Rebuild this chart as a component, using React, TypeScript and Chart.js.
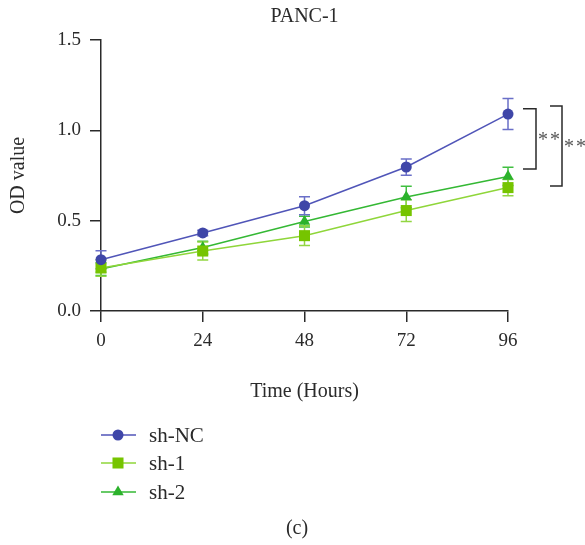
import React, { useEffect, useRef } from "react";
import { Chart, registerables } from "chart.js";

Chart.register(...registerables);

const hours = [0, 24, 48, 72, 96];
const xTicks = [0, 24, 48, 72, 96];
const yTicks = [0, 0.5, 1.0, 1.5];
const seriesNames = ["sh-NC", "sh-1", "sh-2"];
const shNC = [0.284, 0.432, 0.583, 0.797, 1.09];
const shNCErr = [0.05, 0.015, 0.05, 0.045, 0.086];
const sh1 = [0.238, 0.332, 0.417, 0.556, 0.683];
const sh1Err = [0.045, 0.05, 0.055, 0.06, 0.045];
const sh2 = [0.232, 0.351, 0.495, 0.631, 0.745];
const sh2Err = [0.035, 0.035, 0.03, 0.06, 0.05];
const bracketTops = [1.12, 1.134];
const bracketBottoms = [0.786, 0.692];
const bracketLabels = ["**", "**"];

const FONT = "'Liberation Serif', 'Times New Roman', serif";
const INK = "#2a2a2a";

const errs = [shNCErr, sh1Err, sh2Err];
const errColors = ["#6a6fc8", "#92d642", "#40bf40"];

const pts = (ys: number[]) => hours.map((h, i) => ({ x: h, y: ys[i] }));

function drawMarker(ctx: CanvasRenderingContext2D, style: string, x: number, y: number, r: number, color: string) {
  ctx.save();
  ctx.fillStyle = color;
  ctx.beginPath();
  if (style === "circle") {
    ctx.arc(x, y, r, 0, Math.PI * 2);
  } else if (style === "rect") {
    const s = Math.SQRT1_2 * r;
    ctx.rect(x - s, y - s, 2 * s, 2 * s);
  } else {
    const w = (r * Math.sqrt(3)) / 2;
    ctx.moveTo(x, y - r);
    ctx.lineTo(x + w, y + r / 2);
    ctx.lineTo(x - w, y + r / 2);
    ctx.closePath();
  }
  ctx.fill();
  ctx.restore();
}

const errorBarPlugin = {
  id: "errorBars",
  beforeDatasetsDraw(chart: any) {
    const ctx = chart.ctx;
    const xs = chart.scales.x;
    const ys = chart.scales.y;
    ctx.save();
    ctx.lineWidth = 1.5;
    [2, 1, 0].forEach((d) => {
      const data = chart.data.datasets[d].data;
      ctx.strokeStyle = errColors[d];
      data.forEach((p: any, i: number) => {
        const x = xs.getPixelForValue(p.x);
        const top = ys.getPixelForValue(p.y + errs[d][i]);
        const bot = ys.getPixelForValue(p.y - errs[d][i]);
        ctx.beginPath();
        ctx.moveTo(x, top);
        ctx.lineTo(x, bot);
        ctx.moveTo(x - 5.5, top);
        ctx.lineTo(x + 5.5, top);
        ctx.moveTo(x - 5.5, bot);
        ctx.lineTo(x + 5.5, bot);
        ctx.stroke();
      });
    });
    ctx.restore();
  },
};

const annotPlugin = {
  id: "annot",
  afterDraw(chart: any) {
    const ctx = chart.ctx;
    const xs = chart.scales.x;
    const ys = chart.scales.y;
    const area = chart.chartArea;
    const xLast = xs.getPixelForValue(hours[hours.length - 1]);
    ctx.save();
    // brackets
    const offs = [
      [15, 28],
      [42, 54],
    ];
    ctx.strokeStyle = INK;
    ctx.lineWidth = 1.5;
    bracketTops.forEach((t, i) => {
      const yt = ys.getPixelForValue(t);
      const yb = ys.getPixelForValue(bracketBottoms[i]);
      const x0 = xLast + offs[i][0];
      const x1 = xLast + offs[i][1];
      ctx.beginPath();
      ctx.moveTo(x0, yt);
      ctx.lineTo(x1, yt);
      ctx.lineTo(x1, yb);
      ctx.lineTo(x0, yb);
      ctx.stroke();
      ctx.save();
      ctx.fillStyle = "#555";
      ctx.font = `20px ${FONT}`;
      (ctx as any).letterSpacing = "2px";
      ctx.textAlign = "left";
      ctx.textBaseline = "alphabetic";
      ctx.fillText(bracketLabels[i], x1 + 2, (yt + yb) / 2 + 7);
      ctx.restore();
    });
    // title and axis titles
    const cx = (area.left + area.right) / 2;
    ctx.fillStyle = INK;
    ctx.textAlign = "center";
    ctx.textBaseline = "middle";
    ctx.font = `20px ${FONT}`;
    ctx.fillText("PANC-1", cx, 17);
    ctx.fillText("Time (Hours)", cx, 392);
    ctx.fillText("(c)", 297, 529);
    ctx.save();
    ctx.translate(19, (area.top + area.bottom) / 2);
    ctx.rotate(-Math.PI / 2);
    ctx.fillText("OD value", 0, 0);
    ctx.restore();
    // legend
    const rows = [435, 463, 492];
    chart.data.datasets.forEach((ds: any, i: number) => {
      const y = rows[i];
      ctx.strokeStyle = ds.borderColor;
      ctx.lineWidth = 1.5;
      ctx.beginPath();
      ctx.moveTo(101, y);
      ctx.lineTo(136, y);
      ctx.stroke();
      drawMarker(ctx, ds.pointStyle, 118, y, ds.pointRadius, ds.pointBackgroundColor);
      ctx.fillStyle = INK;
      ctx.textAlign = "left";
      ctx.font = `21px ${FONT}`;
      ctx.fillText(seriesNames[i], 149, y + 1);
    });
    ctx.restore();
  },
};

export default function App() {
  const ref = useRef<HTMLCanvasElement>(null);
  useEffect(() => {
    document.body.style.margin = "0";
    const canvas = ref.current!;
    const axisCommon = {
      border: { display: true, color: INK, width: 1.5 },
      grid: { display: true, drawOnChartArea: false, drawTicks: true, tickLength: 11, tickColor: INK, lineWidth: 1.5 },
    };
    const chart = new Chart(canvas, {
      type: "line",
      data: {
        datasets: [
          {
            label: seriesNames[0],
            data: pts(shNC),
            borderColor: "#5055b8",
            borderWidth: 1.5,
            pointStyle: "circle",
            pointRadius: 5.5,
            pointBackgroundColor: "#3f46a8",
            pointBorderWidth: 0,
            tension: 0,
            clip: false,
          },
          {
            label: seriesNames[1],
            data: pts(sh1),
            borderColor: "#8fd63a",
            borderWidth: 1.5,
            pointStyle: "rect",
            pointRadius: 7.8,
            pointBackgroundColor: "#76c400",
            pointBorderWidth: 0,
            tension: 0,
            clip: false,
          },
          {
            label: seriesNames[2],
            data: pts(sh2),
            borderColor: "#34b834",
            borderWidth: 1.5,
            pointStyle: "triangle",
            pointRadius: 6.6,
            pointBackgroundColor: "#2cb22c",
            pointBorderWidth: 0,
            tension: 0,
            clip: false,
          },
        ],
      },
      options: {
        responsive: false,
        animation: false,
        layout: { padding: { top: 40, right: 77, left: 0, bottom: 0 } },
        plugins: { legend: { display: false }, tooltip: { enabled: false }, title: { display: false } },
        scales: {
          x: {
            type: "linear",
            min: 0,
            max: 96,
            afterBuildTicks: (s: any) => {
              s.ticks = xTicks.map((v) => ({ value: v }));
            },
            afterFit: (s: any) => {
              s.height = 545 - 311;
            },
            ticks: { color: INK, padding: 8, font: { family: FONT, size: 19 } },
            ...axisCommon,
          },
          y: {
            type: "linear",
            min: 0,
            max: 1.5,
            afterBuildTicks: (s: any) => {
              s.ticks = yTicks.map((v) => ({ value: v }));
            },
            afterFit: (s: any) => {
              s.width = 101;
            },
            ticks: {
              color: INK,
              padding: 9,
              font: { family: FONT, size: 19 },
              callback: (v: any) => Number(v).toFixed(1),
            },
            ...axisCommon,
          },
        },
      },
      plugins: [errorBarPlugin, annotPlugin],
    } as any);
    return () => chart.destroy();
  }, []);
  return <canvas ref={ref} width={585} height={545} style={{ display: "block" }} />;
}
